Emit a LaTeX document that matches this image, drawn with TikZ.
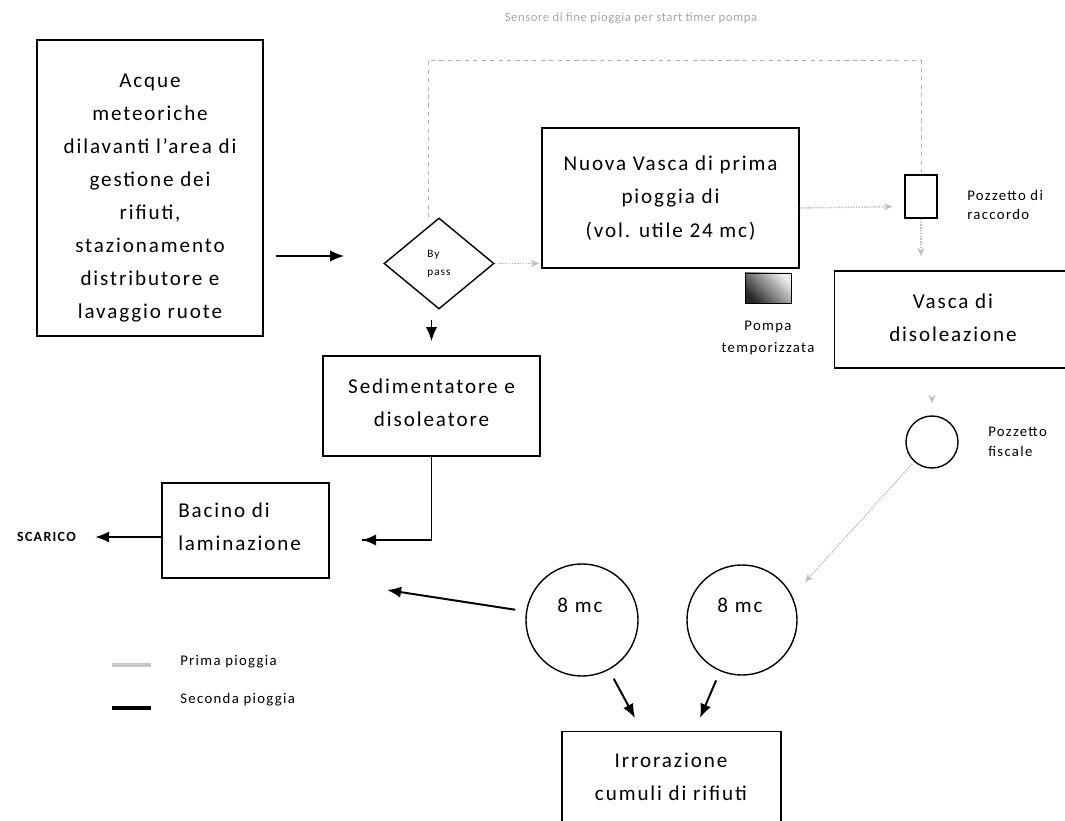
\documentclass[tikz,border=0pt]{standalone}
\usepackage{fontspec}
\setmainfont{Carlito}[LetterSpace=9]
\newfontfamily\sensfont{Carlito}[LetterSpace=4.5]
\usetikzlibrary{arrows.meta,shapes.geometric,calc}
\begin{document}
\begin{tikzpicture}[x=0.025cm,y=-0.025cm,
  box/.style={draw,line width=1pt,align=center,font=\fontsize{15}{24}\selectfont,inner sep=0pt},
  txt/.style={align=center,font=\fontsize{15}{23.5}\selectfont,inner sep=0pt},
  lbl/.style={align=left,font=\fontsize{10.5}{14}\selectfont,inner sep=0pt},
  blk/.style={line width=1.4pt,-{Latex[length=10pt,width=8pt]}},
  blkline/.style={line width=1.4pt},
  gry/.style={gray!50,densely dotted,line width=1pt,-{Stealth[open,length=6pt,width=5pt]}},
  dsh/.style={gray!60,dashed,line width=0.6pt},
  circ/.style={circle,draw,line width=1pt,inner sep=0pt}
]
\useasboundingbox (0,0) rectangle (1065,821);
\clip (0,0) rectangle (1065,821);

% boxes
\node[box,minimum width=5.65cm,minimum height=7.4cm] (acque) at (150,188) {};
\node[txt] (acquet) at (150,198)
  {Acque\\meteoriche\\dilavanti l’area di\\gestione dei\\rifiuti,\\stazionamento\\distributore e\\lavaggio ruote};
\node[diamond,draw,line width=1pt,minimum width=2.75cm,minimum height=2.275cm,inner sep=0pt,
  align=left,font=\fontsize{8}{13}\selectfont] (bp) at (439,263.5) {By\\pass};
\node[box,minimum width=6.425cm,minimum height=3.5cm] (nuova) at (670.5,198)
  {Nuova Vasca di prima\\pioggia di\\(vol. utile 24 mc)};
\node[draw,line width=1pt,minimum width=0.8cm,minimum height=1.075cm,inner sep=0pt] (pozz) at (921,196.5) {};
\node[lbl,anchor=west] (pozzl) at (967,205) {Pozzetto di\\raccordo};
\node[draw,line width=0.6pt,minimum width=1.15cm,minimum height=0.75cm,inner sep=0pt,
  top color=gray!15,bottom color=black!85,shading angle=-45] (pump) at (768,288) {};
\node[lbl,align=center,font=\fontsize{10.5}{16}\selectfont] (pumpl) at (768,338) {Pompa\\temporizzata};
\node[box,minimum width=6.5cm,minimum height=2.425cm,anchor=west] (vasca) at (834,319.5) {};
\node[txt] (vascat) at (953,317.5) {Vasca di\\disoleazione};
\node[circ,minimum size=1.3cm] (fisc) at (932,442) {};
\node[lbl,anchor=west] (fiscl) at (988,442) {Pozzetto\\fiscale};
\node[box,minimum width=5.425cm,minimum height=2.5cm] (sed) at (431.5,406) {};
\node[txt] (sedt) at (431.5,403) {Sedimentatore e\\disoleatore};
\node[box,minimum width=4.175cm,minimum height=2.375cm] (bac) at (245.5,530.5) {};
\node[txt,align=left,anchor=west] (bact) at (178,527) {Bacino di\\laminazione};
\node[font=\fontsize{10}{12}\selectfont\bfseries,inner sep=0pt] (scarico) at (46.5,537) {SCARICO};
\node[circ,minimum size=2.8cm] (c1) at (582,620) {};
\node[txt] (c1t) at (580,605) {8 mc};
\node[circ,minimum size=2.75cm] (c2) at (742,620) {};
\node[txt] (c2t) at (740,605) {8 mc};
\node[box,minimum width=5.475cm,minimum height=3.2cm,anchor=north] (irr) at (671.5,731) {};
\node[txt] (irrt) at (671,776.5) {Irrorazione\\cumuli di rifiuti};
\node[font=\fontsize{9}{11}\sensfont,text=gray!70,inner sep=0pt] (sens) at (631,18)
  {Sensore di fine pioggia per start timer pompa};

% coordinates
\coordinate (y256) at (0,256);
\coordinate (topc) at (600,60);
\coordinate (c540) at (362,540);
\coordinate (c590) at (387,590);
\coordinate (gEnd) at (805,582);
\coordinate (irrL) at (635,718);
\coordinate (irrR) at (700,718);
\coordinate (lg1a) at (112,665);
\coordinate (lg1b) at (151,665);
\coordinate (lg2a) at (112,708);
\coordinate (lg2b) at (151,708);

% connectors
\draw[blk,shorten <=0.3cm,shorten >=0.975cm] (acque.east |- y256) -- (bp.west |- y256);
\draw[gry,shorten >=0.05cm] (bp.east) -- (nuova.west |- bp.east);
\draw[gry,shorten >=0.3cm] ([yshift=-0.25cm]nuova.east) -- ([yshift=-0.25cm]pozz.west);
\draw[gry,shorten >=0.35cm] (pozz.south) -- (vasca.north -| pozz.south);
\draw[dsh] ([xshift=-0.275cm]bp.north) |- (topc) -| (pozz.north);
\draw[blk,shorten <=0.25cm,shorten >=0.35cm] (bp.south -| sed.north) -- (sed.north);
\draw[blkline] (sed.south) |- (c540);
\draw[blk] ([xshift=0.1cm]c540) -- (c540);
\draw[blk,shorten >=0.475cm] (bac.west |- scarico.east) -- (scarico.east);
\draw[blk,shorten <=0.27cm] (c1) -- (c590);
\draw[blk,shorten <=0.25cm] (c1) -- (irrL);
\draw[blk,shorten <=0.25cm] (c2) -- (irrR);
\draw[gry,shorten <=0.8cm,shorten >=0.3cm] (vasca.south -| fisc.north) -- (fisc.north);
\draw[gry] (fisc) -- (gEnd);

% legend
\draw[gray!45,line width=3pt] (lg1a) -- (lg1b);
\draw[line width=3pt] (lg2a) -- (lg2b);
\node[lbl,anchor=west] (leg1) at (180,662) {Prima pioggia};
\node[lbl,anchor=west] (leg2) at (180,700) {Seconda pioggia};
\end{tikzpicture}
\end{document}
